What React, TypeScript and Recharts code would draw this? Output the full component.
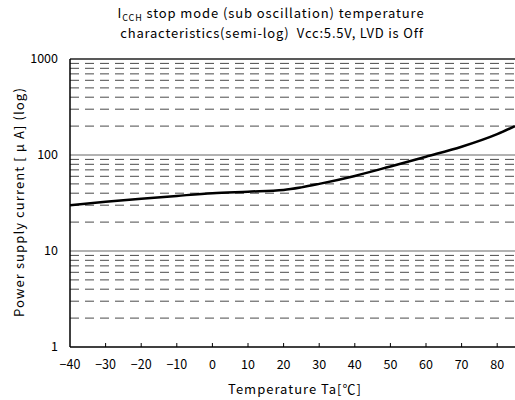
import React from 'react';
import {
  LineChart,
  Line,
  XAxis,
  YAxis,
  ReferenceLine,
} from 'recharts';

// temperature (°C) and supply current (µA)
const TEMPS = [-40, -30, -20, -10, 0, 10, 20, 25, 30, 40, 50, 60, 70, 80, 85];
const CURRENTS = [30, 32.5, 35, 37.5, 40, 41.5, 43.2, 46, 50, 60.5, 76, 96, 122, 165, 200];

const X_TICKS = [-40, -30, -20, -10, 0, 10, 20, 30, 40, 50, 60, 70, 80];
const Y_TICKS = [1, 10, 100, 1000];
const MAJOR_LINES = [10, 100];
const MINOR_LINES = [
  2, 3, 4, 5, 6, 7, 8, 9,
  20, 30, 40, 50, 60, 70, 80, 90,
  200, 300, 400, 500, 600, 700, 800, 900,
];

const FONT = '"Noto Sans CJK JP", "Noto Sans", sans-serif';

const data = TEMPS.map((t, i) => ({ t, v: CURRENTS[i] }));

export default function App() {
  return (
    <div
      style={{
        position: 'absolute',
        left: 0,
        top: 0,
        width: 515,
        height: 400,
        background: '#fff',
        fontFamily: FONT,
      }}
    >
      <LineChart
        width={515}
        height={400}
        data={data}
        margin={{ top: 59, right: 0, left: 0, bottom: 0 }}
      >
        <XAxis
          dataKey="t"
          type="number"
          domain={[-40, 85]}
          ticks={X_TICKS}
          allowDataOverflow
          height={53}
          tickSize={0}
          tickMargin={13}
          tickFormatter={(v: number) => (v < 0 ? `\u2212${-v}` : `${v}`)}
          tick={{ fill: '#000', fontSize: 12.5, fontFamily: FONT }}
          axisLine={{ stroke: '#000', strokeWidth: 1.5 }}
        />
        <YAxis
          scale="log"
          domain={[1, 1000]}
          ticks={Y_TICKS}
          allowDataOverflow
          width={70}
          tickSize={0}
          tickMargin={12}
          tick={{ fill: '#000', fontSize: 12.5, fontFamily: FONT }}
          axisLine={{ stroke: '#000', strokeWidth: 1.5 }}
        />

        {MINOR_LINES.map((v) => (
          <ReferenceLine
            key={v}
            y={v}
            stroke="#4a4a4a"
            strokeDasharray="9 6"
            ifOverflow="hidden"
          />
        ))}
        {MAJOR_LINES.map((v) => (
          <ReferenceLine key={v} y={v} stroke="#666" strokeWidth={1.2} />
        ))}
        <ReferenceLine y={1000} stroke="#222" strokeWidth={1.5} />

        {/* small inward ticks on the bottom axis */}
        {X_TICKS.slice(1).map((t) => (
          <ReferenceLine
            key={`xt${t}`}
            segment={[
              { x: t, y: 1 },
              { x: t, y: 1.1 },
            ]}
            stroke="#000"
          />
        ))}

        <Line
          type="monotone"
          dataKey="v"
          stroke="#000"
          strokeWidth={2.5}
          dot={false}
          isAnimationActive={false}
        />
      </LineChart>

      <svg
        width={515}
        height={400}
        style={{ position: 'absolute', left: 0, top: 0, pointerEvents: 'none' }}
        fontFamily={FONT}
      >
        <text x={271} y={18} textAnchor="middle" fontSize={13} letterSpacing={0.9} fill="#000">
          I
          <tspan fontSize={9} dy={3}>CCH</tspan>
          <tspan dy={-3}> stop mode (sub oscillation) temperature</tspan>
        </text>
        <text x={272} y={38} textAnchor="middle" fontSize={13} letterSpacing={0.8} fill="#000">
          {'characteristics(semi-log)\u00a0 Vcc:5.5V, LVD is Off'}
        </text>
        <text
          x={0}
          y={0}
          transform="translate(24, 202) rotate(-90)"
          textAnchor="middle"
          fontSize={13}
          letterSpacing={1.1}
          fill="#000"
        >
          {'Power supply current [\u00a0μ\u00a0A] (log)'}
        </text>
        <text x={295} y={394} textAnchor="middle" fontSize={13} letterSpacing={1} fill="#000">
          Temperature Ta[℃]
        </text>
      </svg>
    </div>
  );
}
